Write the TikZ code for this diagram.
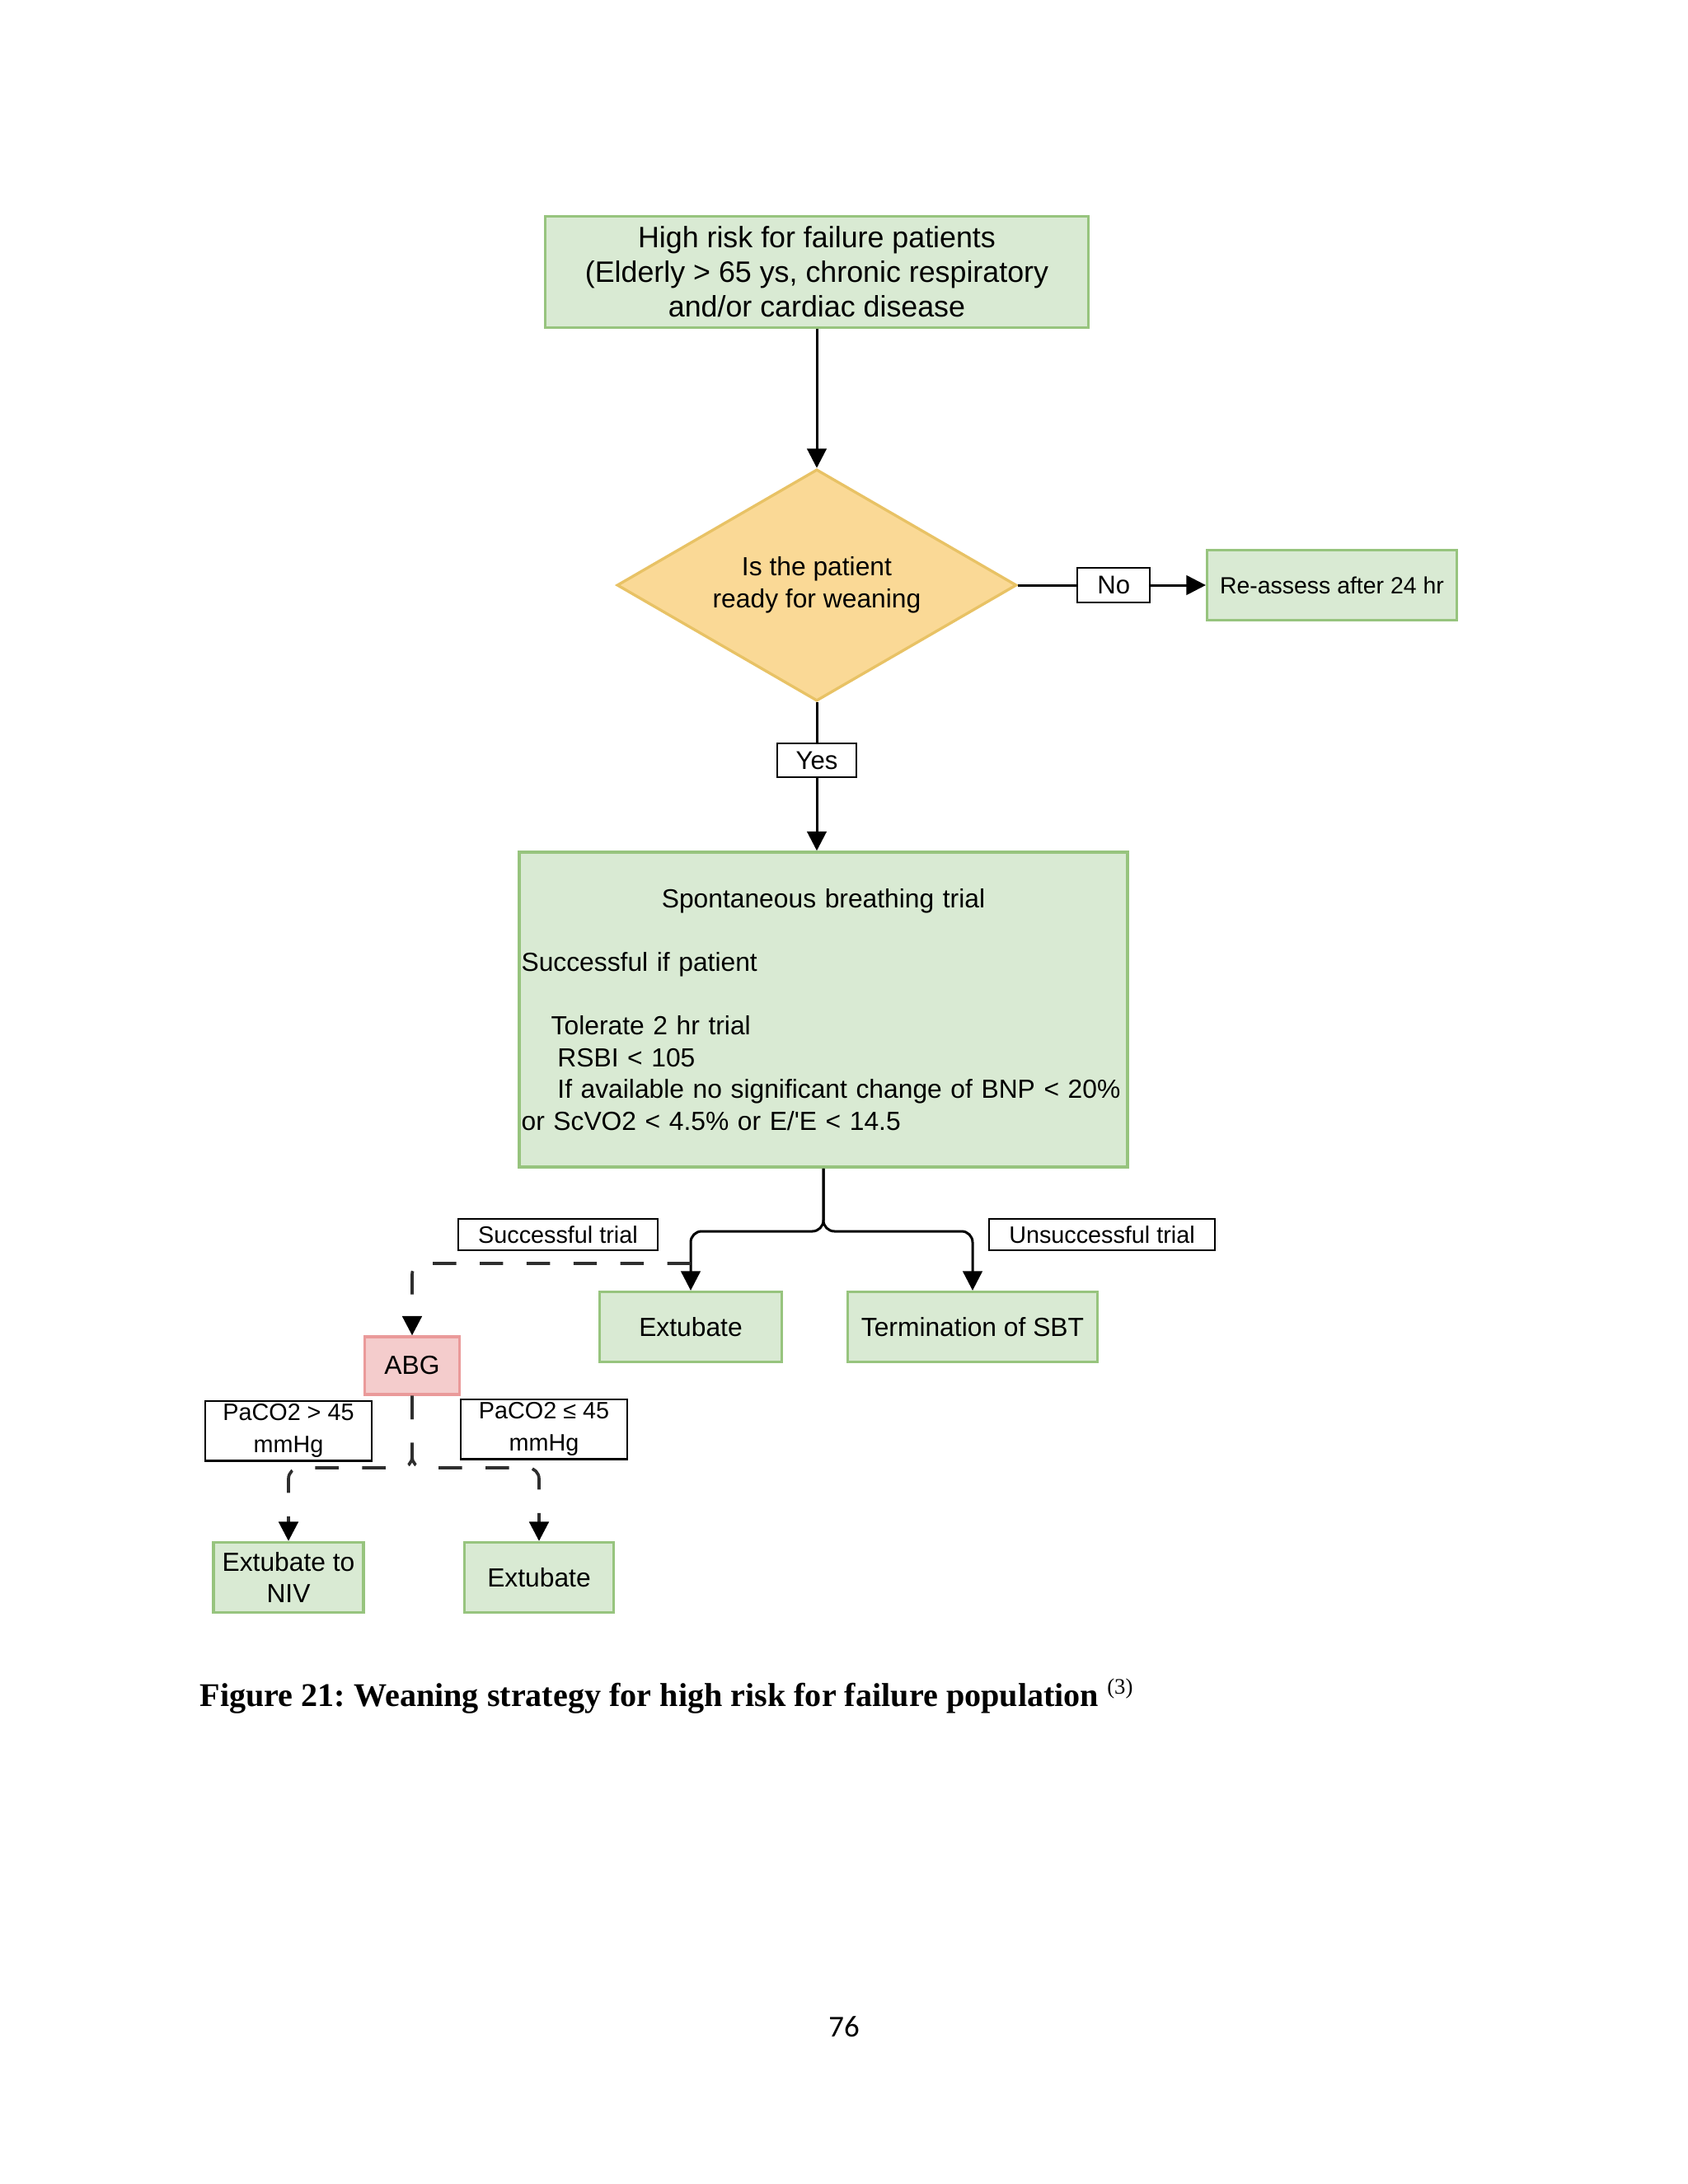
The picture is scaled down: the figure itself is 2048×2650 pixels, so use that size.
\documentclass[tikz,border=0pt]{standalone}
\usepackage{fontspec}
\setmainfont{Liberation Sans}
\newfontfamily\captionfont{Liberation Serif}
\newfontfamily\pagenumfont{Carlito}
\usetikzlibrary{shapes.geometric, arrows.meta, positioning}
\definecolor{boxline}{HTML}{97C47E}
\definecolor{boxfill}{HTML}{D9EAD3}
\definecolor{decline}{HTML}{E8C265}
\definecolor{decfill}{HTML}{FAD996}
\definecolor{abgline}{HTML}{EA9A9A}
\definecolor{abgfill}{HTML}{F4CCCC}
\tikzstyle{process}=[rectangle, draw=boxline, fill=boxfill, line width=1pt, inner sep=1pt, align=center, font=\fontsize{9.5}{11.6}\selectfont]
\tikzstyle{decision}=[diamond, aspect=1.73, draw=decline, fill=decfill, line width=1pt, inner sep=0pt, align=center, font=\fontsize{9.5}{11.6}\selectfont]
\tikzstyle{check}=[process, draw=abgline, fill=abgfill]
\tikzstyle{tag}=[rectangle, draw=black, fill=white, line width=0.6pt, inner sep=0pt, align=center, font=\fontsize{8.6}{11.6}\selectfont]
\tikzstyle{flow}=[draw=black, line width=0.9pt, -{Triangle[width=7pt,length=7pt,color=black]}]
\tikzstyle{alt flow}=[flow, draw=black!82, line width=1.1pt, dash pattern=on 8.5pt off 8.5pt]

\begin{document}
\begin{tikzpicture}[x=0.29883pt, y=-0.29883pt]
	\useasboundingbox (0,0) rectangle (2048,2650);

	% Draw the main boxes
	\node[process, minimum width=196.9pt, minimum height=40.3pt, font=\fontsize{10.7}{12.6}\selectfont] (risk) at (991,330) {High risk for failure patients\\(Elderly > 65 ys, chronic respiratory\\and/or cardiac disease};
	\node[decision, minimum width=144.9pt, minimum height=84pt] (ready) at (991,710) {Is the patient\\ready for weaning};
	\node[process, minimum width=90.5pt, minimum height=25.4pt, font=\fontsize{8.5}{10}\selectfont] (reassess) at (1616,710) {Re-assess after 24 hr};
	\node[process, inner sep=0.6pt, minimum width=220.5pt, minimum height=114.2pt, text width=219pt, align=left, font=\fontsize{9.5}{11.5}\selectfont] (sbt) at (999,1225) {%
		\hfill Spontaneous breathing trial\hfill\null\\[11.5pt]
		Successful if patient\\[11.5pt]
		\hspace*{10.8pt}Tolerate 2 hr trial\\
		\hspace*{13.1pt}RSBI < 105\\
		\hspace*{13.1pt}\mbox{If available no significant change of BNP < 20\%}\\
		or ScVO2 < 4.5\% or E/\textquotesingle E < 14.5};

	% Draw the outcome boxes
	\node[process, minimum width=66pt, minimum height=25.4pt] (ext1) at (838,1610) {Extubate};
	\node[process, minimum width=90.5pt, minimum height=25.4pt] (term) at (1180,1610) {Termination of SBT};
	\node[check, minimum width=34.4pt, minimum height=20.9pt] (abg) at (500,1657) {ABG};
	\node[process, minimum width=54.4pt, minimum height=25.4pt] (niv) at (350,1914) {Extubate to\\NIV};
	\node[process, minimum width=54.1pt, minimum height=25.4pt] (ext2) at (654,1914) {Extubate};

	% Branch labels
	\node[tag, minimum width=72.6pt, minimum height=11.1pt] (succtag) at (677,1498) {Successful trial};
	\node[tag, minimum width=81.6pt, minimum height=11.1pt] (unsucctag) at (1337,1498) {Unsuccessful trial};
	\node[tag, minimum width=60.1pt, minimum height=21.8pt] (highco) at (350,1736) {PaCO2 > 45\\mmHg};
	\node[tag, minimum width=60.1pt, minimum height=21.8pt] (lowco) at (660,1734) {PaCO2 ≤ 45\\mmHg};

	\coordinate (fork) at (999,1494);
	\coordinate (succ) at (838,1533);
	\coordinate (abgfork) at (500,1781);

	% Connect the boxes
	\draw[flow] (risk) -- (ready);
	\draw[flow] (ready) -- node[tag, pos=0.51, minimum width=26.3pt, minimum height=12.6pt, font=\fontsize{9.3}{11}\selectfont] (no) {No} (reassess);
	\draw[flow] (ready.south) -- node[tag, pos=0.39, minimum width=28.4pt, minimum height=12pt, font=\fontsize{9.3}{11}\selectfont] (yes) {Yes} (ready.south |- sbt.north);
	\draw[flow, rounded corners=4pt] (sbt.south) -- (fork) -| (ext1.north);
	\draw[flow, rounded corners=4pt] (sbt.south) -- (fork) -| (term.north);

	% Dashed paths after a successful trial
	\draw[alt flow, rounded corners=4pt] (succ) -| (abg.north);
	\draw[alt flow, rounded corners=4pt] (abg.south) -- (abgfork) -| (niv.north);
	\draw[alt flow, rounded corners=4pt] (abg.south) -- (abgfork) -| (ext2.north);

	% Caption and page number
	\node[anchor=base west, inner sep=0pt] (caption) at (242,2070) {\captionfont\bfseries\fontsize{12}{14}\selectfont\frenchspacing Figure 21: Weaning strategy for high risk for failure population \textsuperscript{\mdseries (3)}};
	\node (pagenum) at (1024,2459) {\pagenumfont\fontsize{11}{13}\selectfont 76};
\end{tikzpicture}
\end{document}
